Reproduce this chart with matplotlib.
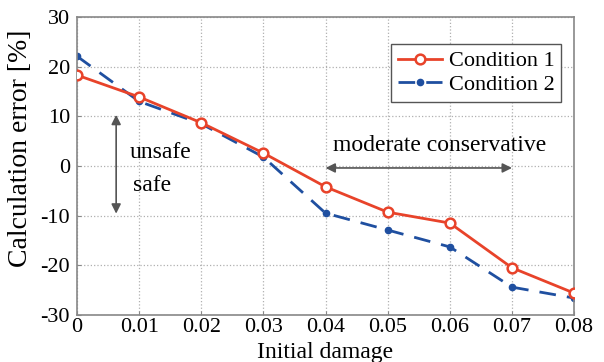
import matplotlib
matplotlib.use('Agg')
import matplotlib.pyplot as plt

plt.rcParams['font.family'] = ['Liberation Serif', 'DejaVu Serif']
plt.rcParams['axes.unicode_minus'] = False

# initial damage levels and calculation errors [%]
damage = [0, 0.01, 0.02, 0.03, 0.04, 0.05, 0.06, 0.07, 0.08]
cond1 = [18.3, 13.9, 8.7, 2.6, -4.2, -9.3, -11.5, -20.5, -25.6]
cond2 = [22.1, 13.0, 8.5, 1.8, -9.5, -12.9, -16.3, -24.4, -26.6]

fig = plt.figure(figsize=(6.04, 3.62), dpi=100)
ax = fig.add_axes([0.1275, 0.13, 0.823, 0.823])

ax.plot(damage, cond1, '-o', color='#e8432a', lw=2, ms=7, mfc='white',
        mec='#e8432a', mew=1.8, label='Condition 1', zorder=3)
ax.plot(damage, cond2, '--o', color='#1f4fa0', lw=2, ms=4.5, dashes=(6, 4),
        label='Condition 2', zorder=2)

ax.set_xlim(0, 0.08)
ax.set_ylim(-30, 30)
ax.set_xticks(damage)
ax.set_xticklabels(['0', '0.01', '0.02', '0.03', '0.04', '0.05', '0.06', '0.07', '0.08'])
ax.set_yticks(range(-30, 31, 10))
ax.grid(True, ls=':', color='#b0b0b0', lw=0.9)
ax.tick_params(labelsize=16, direction='in', length=3, color='#888888')
ax.tick_params(axis='x', pad=2)
ax.tick_params(axis='y', pad=5)
for s in ax.spines.values():
    s.set_color('#888888')
    s.set_linewidth(1.2)

ax.set_xlabel('Initial damage', fontsize=17, va='center')
ax.xaxis.set_label_coords(0.50, -0.125)
ax.set_ylabel('Calculation error [%]', fontsize=20, va='center')
ax.yaxis.set_label_coords(-0.113, 0.56)

# safe / unsafe vertical arrow
ax.annotate('', xy=(0.0063, 10.3), xytext=(0.0063, -9.6),
            arrowprops=dict(arrowstyle='<|-|>', color='#555555', lw=1.2,
                            mutation_scale=14, shrinkA=0, shrinkB=0))
ax.text(0.0084, 2.8, 'unsafe', fontsize=17, ha='left', va='center')
ax.text(0.0090, -4.0, 'safe', fontsize=17, ha='left', va='center')

# moderate conservative range
ax.annotate('', xy=(0.04, -0.4), xytext=(0.07, -0.4),
            arrowprops=dict(arrowstyle='<|-|>', color='#555555', lw=1.2,
                            mutation_scale=14, shrinkA=0, shrinkB=0))
ax.text(0.0583, 4.2, 'moderate conservative', fontsize=17, ha='center', va='center')

leg = ax.legend(loc='upper right', bbox_to_anchor=(0.974, 0.909), fontsize=16,
                numpoints=1, fancybox=False, framealpha=1, borderpad=0.3,
                handlelength=2.0, handletextpad=0.3, labelspacing=0.15,
                borderaxespad=0)
leg.get_frame().set_edgecolor('#555555')
leg.get_frame().set_linewidth(1)

fig.savefig('out.png', dpi=100)
